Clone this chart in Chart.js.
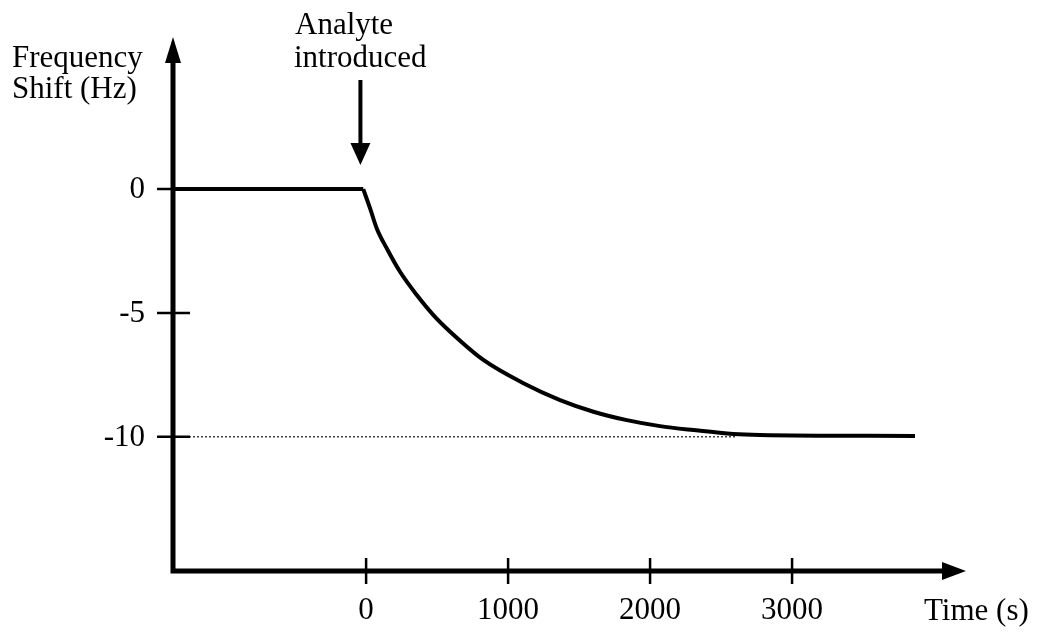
<!DOCTYPE html>
<html>
<head>
<meta charset="utf-8">
<script src="https://cdn.jsdelivr.net/npm/chart.js@4.4.1/dist/chart.umd.min.js"></script>
<style>
  html, body { margin: 0; padding: 0; background: #fff; }
  #wrap { width: 1042px; height: 636px; }
</style>
</head>
<body>
<div id="wrap"><canvas id="chart" width="1042" height="636"></canvas></div>
<script>
// values
const flatTime = [-1360, -20];
const flatShift = [0, 0];
const timeS = [-20, 28, 75, 146, 239, 357, 474, 592, 826, 1108, 1366, 1601, 1836, 2070, 2305, 2587, 2775, 3866];
const shiftHz = [0, -0.78, -1.59, -2.40, -3.34, -4.28, -5.09, -5.76, -6.90, -7.84, -8.52, -8.99, -9.33, -9.57, -9.73, -9.89, -9.93, -9.97];
const baseTime = [-1360, 2600];
const baseShift = [-10, -10];
const xTicks = [0, 1000, 2000, 3000];
const yTicks = [0, -5, -10];
const xRange = [-1360, 4225];
const yRange = [-15.42, 6.14];
const injectTime = -40;

const FONT = '31px "Liberation Serif", "Times New Roman", serif';

// draws axes with arrows, crossing tick marks, labels and the annotation arrow
const axesPlugin = {
    id: 'axesPlugin',
    afterDatasetsDraw(chart) {
        const ctx = chart.ctx;
        const xs = chart.scales.x, ys = chart.scales.y;
        const x0 = xs.getPixelForValue(xRange[0]);
        const x1 = xs.getPixelForValue(xRange[1]);
        const y0 = ys.getPixelForValue(yRange[0]);
        const y1 = ys.getPixelForValue(yRange[1]);
        ctx.save();
        ctx.strokeStyle = '#000';
        ctx.fillStyle = '#000';
        ctx.lineCap = 'butt';

        // axis lines
        ctx.lineWidth = 5;
        ctx.beginPath();
        ctx.moveTo(x0, y1 + 20);
        ctx.lineTo(x0, y0);
        ctx.lineTo(x1 - 18, y0);
        ctx.stroke();

        // arrow heads
        ctx.beginPath();
        ctx.moveTo(x0, y1);
        ctx.lineTo(x0 - 8, y1 + 26);
        ctx.lineTo(x0 + 8, y1 + 26);
        ctx.closePath();
        ctx.fill();
        ctx.beginPath();
        ctx.moveTo(x1, y0);
        ctx.lineTo(x1 - 24, y0 - 9);
        ctx.lineTo(x1 - 24, y0 + 9);
        ctx.closePath();
        ctx.fill();

        // tick marks
        ctx.lineWidth = 2.5;
        yTicks.forEach(v => {
            const p = ys.getPixelForValue(v);
            ctx.beginPath();
            ctx.moveTo(x0 - 16, p);
            ctx.lineTo(x0 + 17, p);
            ctx.stroke();
        });
        xTicks.forEach(v => {
            const p = xs.getPixelForValue(v);
            ctx.beginPath();
            ctx.moveTo(p, y0 - 13);
            ctx.lineTo(p, y0 + 13);
            ctx.stroke();
        });

        // tick labels
        ctx.font = FONT;
        ctx.textBaseline = 'middle';
        ctx.textAlign = 'right';
        yTicks.forEach(v => {
            ctx.fillText(String(v), x0 - 28, ys.getPixelForValue(v) + 1);
        });
        ctx.textAlign = 'center';
        ctx.textBaseline = 'alphabetic';
        xTicks.forEach(v => {
            ctx.fillText(String(v), xs.getPixelForValue(v), y0 + 48);
        });

        // axis titles
        ctx.textAlign = 'left';
        ctx.fillText('Frequency', 12, 67);
        ctx.fillText('Shift (Hz)', 12, 98);
        ctx.fillText('Time (s)', 924, y0 + 49);

        // annotation
        ctx.fillText('Analyte', 295, 34);
        ctx.fillText('introduced', 294, 67);
        const ax = xs.getPixelForValue(injectTime);
        ctx.lineWidth = 4;
        ctx.beginPath();
        ctx.moveTo(ax, 80);
        ctx.lineTo(ax, 146);
        ctx.stroke();
        ctx.beginPath();
        ctx.moveTo(ax, 165);
        ctx.lineTo(ax - 10, 143);
        ctx.lineTo(ax + 10, 143);
        ctx.closePath();
        ctx.fill();
        ctx.restore();
    }
};

new Chart(document.getElementById('chart'), {
    type: 'line',
    data: {
        datasets: [{
            label: 'Baseline',
            data: baseTime.map((t, i) => ({ x: t, y: baseShift[i] })),
            borderColor: '#444',
            borderWidth: 1.5,
            borderDash: [2, 2],
            pointRadius: 0,
            fill: false
        }, {
            label: 'Before injection',
            data: flatTime.map((t, i) => ({ x: t, y: flatShift[i] })),
            borderColor: '#000',
            borderWidth: 4,
            pointRadius: 0,
            fill: false
        }, {
            label: 'Frequency shift',
            data: timeS.map((t, i) => ({ x: t, y: shiftHz[i] })),
            borderColor: '#000',
            borderWidth: 4,
            borderJoinStyle: 'round',
            pointRadius: 0,
            cubicInterpolationMode: 'monotone',
            fill: false
        }]
    },
    options: {
        responsive: false,
        animation: false,
        events: [],
        layout: { padding: { left: 173, top: 37, right: 1042 - 966, bottom: 636 - 571 } },
        plugins: { legend: { display: false }, tooltip: { enabled: false } },
        scales: {
            x: { type: 'linear', display: false, min: xRange[0], max: xRange[1] },
            y: { type: 'linear', display: false, min: yRange[0], max: yRange[1] }
        }
    },
    plugins: [axesPlugin]
});
</script>
</body>
</html>
